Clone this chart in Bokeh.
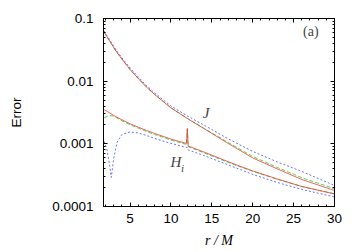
from bokeh.plotting import figure
from bokeh.models import (LinearAxis, LogAxis, FixedTicker, SingleIntervalTicker,
                          CustomJSTickFormatter, Range1d, Label)
from bokeh.embed import file_html
from bokeh.resources import INLINE

# ---- data ----
r = [1.83, 2.2, 2.5, 2.7, 3.0, 3.4, 4.0, 5.0, 6.0, 7.0, 8.0, 10.0, 11.9, 12.0, 12.1,
     14.0, 17.0, 20.0, 23.0, 26.0, 30.0]

J_red = [0.0605, 0.0507, 0.0441, 0.0399, 0.0345, 0.0287, 0.0226, 0.01537, 0.01104, 0.00808,
         0.00614, 0.00374, 0.00259, 0.00254, 0.00249, 0.00176, 0.001015, 0.000596, 0.000398,
         0.00027, 0.00018]
J_green = [0.0598, 0.0502, 0.0437, 0.0396, 0.0343, 0.0285, 0.0225, 0.0153, 0.0110, 0.00806,
           0.00614, 0.00376, 0.00261, 0.00256, 0.00251, 0.00178, 0.00105, 0.00063, 0.00042,
           0.000288, 0.000192]
J_blue = [0.0632, 0.0526, 0.0462, 0.0417, 0.036, 0.030, 0.0237, 0.01624, 0.01167, 0.00854,
          0.00648, 0.00402, 0.00284, 0.00279, 0.00274, 0.0020, 0.0012, 0.000757, 0.000514,
          0.000363, 0.000217]

H_red = [0.0035, 0.00329, 0.00311, 0.0030, 0.00284, 0.00266, 0.00242, 0.00209, 0.001846,
         0.001636, 0.001465, 0.001189, 0.001015, 0.00176, 0.000926, 0.000743, 0.000518,
         0.00037, 0.000275, 0.000209, 0.000159]
H_green = [0.00261, 0.002735, 0.002806, 0.002817, 0.002756, 0.002589, 0.002335, 0.002016,
           0.00178, 0.001577, 0.001413, 0.001146, 0.000978, 0.001697, 0.000899, 0.000721,
           0.000505, 0.000363, 0.000272, 0.000208, 0.000159]
H_blue = [0.001092, 0.000785, 0.000452, 0.000291, 0.000585, 0.001052, 0.001413, 0.001548,
          0.001492, 0.001361, 0.00122, 0.001015, 0.000876, 0.000876, 0.000799, 0.000653,
          0.000461, 0.000325, 0.000242, 0.000187, 0.000142]

y_ticks = [0.0001, 0.001, 0.01, 0.1]
x_label = "r / M"
y_label = "Error"

# annotation anchors (data coordinates)
J_pos = (14.3, 0.00305)
H_pos = (10.6, 0.00051)
Hi_pos = (11.4, 0.000405)
tag_pos = (27.1, 0.062)

RED = "#f03a3a"
GREEN = "#20d020"
BLUE = "#4a4aff"

p = figure(width=360, height=252, y_axis_type="log",
           x_range=Range1d(1.75, 30), y_range=Range1d(1e-4, 0.1),
           output_backend="svg", toolbar_location=None,
           min_border_left=103, min_border_right=26, min_border_top=18,
           min_border_bottom=46)
p.grid.visible = False
p.outline_line_color = "black"
p.outline_line_width = 1
p.background_fill_color = "white"
p.border_fill_color = "white"

minor_y = [m * d for d in [0.0001, 0.001, 0.01] for m in range(2, 10)]
yt = FixedTicker(ticks=y_ticks, minor_ticks=minor_y)
xt = SingleIntervalTicker(interval=5, num_minor_ticks=5)

def style(ax, labels=True):
    ax.major_tick_in = 4
    ax.major_tick_out = 0
    ax.minor_tick_in = 2
    ax.minor_tick_out = 0
    ax.axis_line_color = "black"
    ax.major_tick_line_color = "black"
    ax.minor_tick_line_color = "black"
    ax.major_label_text_font = "Liberation Sans"
    ax.major_label_text_font_size = "13.5px"
    ax.major_label_text_color = "black"
    ax.axis_label_text_color = "black"
    if not labels:
        ax.major_label_text_font_size = "0px"
        ax.major_label_standoff = 0
        ax.formatter = CustomJSTickFormatter(code="return ''")

xa = p.xaxis[0]
xa.ticker = xt
style(xa)
xa.major_label_standoff = 7
xa.axis_label = x_label
xa.axis_label_text_font = "Liberation Serif"
xa.axis_label_text_font_style = "italic"
xa.axis_label_text_font_size = "14px"
xa.axis_label_standoff = 7

ya = p.yaxis[0]
ya.ticker = yt
style(ya)
ya.formatter = CustomJSTickFormatter(code="return tick.toString()")
ya.major_label_standoff = 10
ya.axis_label = y_label
ya.axis_label_text_font = "Liberation Sans"
ya.axis_label_text_font_style = "normal"
ya.axis_label_text_font_size = "13.5px"
ya.axis_label_standoff = 25

top = LinearAxis(ticker=xt)
style(top, labels=False)
p.add_layout(top, "above")
right = LogAxis(ticker=yt)
style(right, labels=False)
p.add_layout(right, "right")

# curves: blue dotted, green dashed, red solid
p.line(r, J_blue, line_color=BLUE, line_width=0.8, line_dash="2 2")
p.line(r, H_blue, line_color=BLUE, line_width=0.8, line_dash="2 2")
p.line(r, J_green, line_color=GREEN, line_width=0.8, line_dash="4 2")
p.line(r, H_green, line_color=GREEN, line_width=0.8, line_dash="4 2")
p.line(r, J_red, line_color=RED, line_width=0.8)
p.line(r, H_red, line_color=RED, line_width=0.8)

p.add_layout(Label(x=J_pos[0], y=J_pos[1], text="J", text_font="Liberation Serif",
                   text_font_style="italic", text_font_size="15px",
                   text_align="center", text_baseline="middle"))
p.add_layout(Label(x=H_pos[0], y=H_pos[1], text="H", text_font="Liberation Serif",
                   text_font_style="italic", text_font_size="15px",
                   text_align="center", text_baseline="middle"))
p.add_layout(Label(x=Hi_pos[0], y=Hi_pos[1], text="i", text_font="Liberation Serif",
                   text_font_style="italic", text_font_size="11px",
                   text_align="center", text_baseline="middle"))
p.add_layout(Label(x=tag_pos[0], y=tag_pos[1], text="(a)", text_font="Liberation Serif",
                   text_font_size="14px", text_align="center", text_baseline="middle"))

open("out.html", "w").write(file_html(p, INLINE))
